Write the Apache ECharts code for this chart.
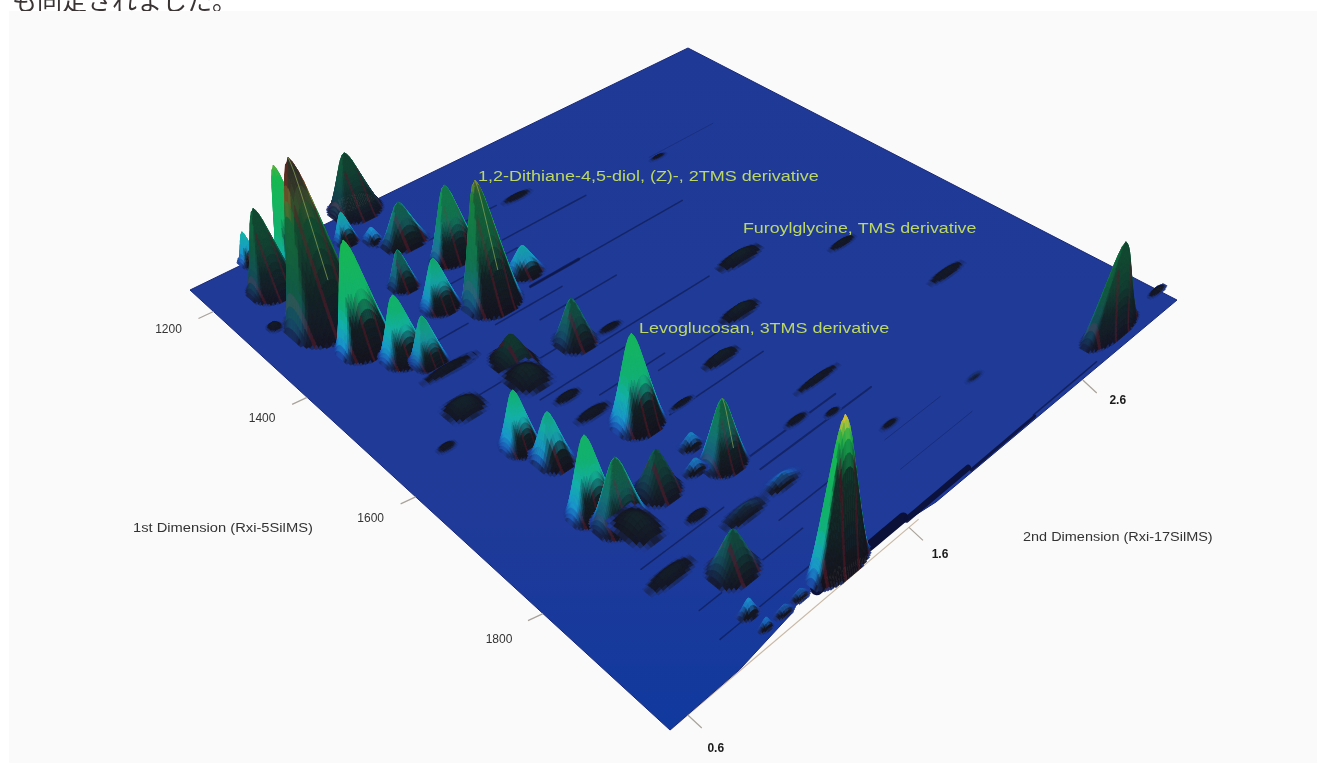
<!doctype html>
<html><head><meta charset="utf-8"><style>html,body{margin:0;background:#fff}#c{width:1326px;height:763px;filter:blur(.6px)}</style>
<script src="https://cdn.jsdelivr.net/npm/echarts@6/dist/echarts.min.js"></script></head><body><div id="c"></div><script>
// ---- values ----
const d1Ticks=[1200,1400,1600,1800];
const d2Ticks=[0.6,1.6,2.6];
const d1Range=[1145,1970];
const d2Range=[0.53,3.25];
const peakD1=[1305,1210,1211,1147,1143,1191,1242,1309,1409,1392,1372,1417,1444,1374,1313,1274,1531,1512,1542,1532,1675,1616,1654,1736,1765,1762,1784,1780,1741,1769,1952,1886,1845,1842,1850,1815,1932,1954,1954,1952,1556,1624,1750,1627,1668,1766,1884,1944,1945,1596,1634,1471,1543,1690,1566,1267,1214,1207,1470,1793,1812,1866,1327,1950];
const peakD2=[0.81,0.89,0.77,0.79,1.30,1.15,1.32,1.41,1.34,1.55,0.84,0.91,0.96,1.18,1.15,0.65,1.42,1.18,1.16,0.90,1.30,0.93,0.97,0.91,0.95,1.13,0.97,1.38,1.35,1.28,1.32,1.07,1.26,1.45,0.91,1.14,0.98,0.98,1.06,1.14,2.22,2.59,2.74,1.98,1.74,1.91,2.33,2.91,3.24,1.20,1.21,1.03,1.56,1.47,0.74,1.84,1.23,0.83,0.98,1.70,1.82,1.92,2.48,1.38];
const peakHeight=[159,111,80,31,60,29,40,72,119,25,100,57,42,46,35,5,40,26,11,9,78,48,40,63,52,34,10,54,11,10,121,32,7,7,6,4,12,8,6,6,8,4,4,8,7,4,2,85,4,4,4,4,3,3,3,3,13,15,4,3,3,2,2,11];
const peakWidthD1=[45,30,30,16,33,16,24,24,33,22,30,27,23,23,19,10,25,31,27,20,28,23,25,23,25,23,28,23,10,9,18,23,11,11,11,7,8,5,6,6,12,7,8,11,9,6,5,17,5,8,9,9,7,5,7,8,17,15,9,6,5,5,5,10];
const peakWidthD2=[0.15,0.09,0.10,0.04,0.11,0.05,0.10,0.11,0.12,0.08,0.11,0.09,0.07,0.08,0.06,0.03,0.08,0.08,0.08,0.08,0.10,0.07,0.07,0.09,0.10,0.08,0.07,0.09,0.05,0.05,0.13,0.09,0.10,0.09,0.10,0.05,0.04,0.03,0.04,0.04,0.12,0.08,0.11,0.10,0.09,0.12,0.05,0.17,0.06,0.06,0.08,0.09,0.06,0.06,0.04,0.08,0.04,0.04,0.12,0.06,0.04,0.05,0.05,0.06];
const streakD1=[1326,1421,1421,1319,1447,1423,1476,1555,1527,1634,1693,1579,1618,1795,1815,1825,1898,1934,1875,1877,1915,1351,1263,1958,1962,1966,1964,1957];
const streakFrom=[1.61,1.50,1.50,2.45,1.26,1.01,1.40,1.42,0.98,1.53,1.40,1.12,1.29,1.43,1.44,0.86,0.88,0.85,1.32,1.85,1.78,1.23,1.35,1.41,1.62,1.95,2.32,1.20];
const streakTo=[2.06,2.33,1.75,2.85,1.59,1.19,1.79,2.05,1.38,1.87,1.88,1.54,1.61,1.90,2.02,1.23,1.35,1.31,1.59,2.16,2.18,1.62,1.74,1.62,1.95,2.32,2.72,1.23];
const frontEdgeD2=[0.53,0.815,1.07,1.13,1.32,1.41,1.59,1.75,3.25];
const frontEdgeD1=[1970,1969,1960,1954,1953,1956,1962,1968,1970];
const labelNames=['1,2-Dithiane-4,5-diol, (Z)-, 2TMS derivative','Furoylglycine, TMS derivative','Levoglucosan, 3TMS derivative'];
const axisNames=['1st Dimension (Rxi-5SilMS)','2nd Dimension (Rxi-17SilMS)'];
const topText='も同定されました。';

// ---- styling of the marks ----
const peakTone=[.15,1,.1,1,.05,.9,.3,.5,.3,.9,1,1,.8,.9,.3,0,.15,0,0,0,1,1,.9,1,.3,.05,0,.3,.9,.9,1,.1,.1,.5,0,0,1,1,.8,.8,0,0,0,0,0,0,.2,.1,0,0,0,0,0,0,0,0,1,.9,0,0,0,0,0,1];
const litFromPeak={30:.62};
const streakWidth=[1.5,1.5,3,1,1.5,1.5,1.5,1.5,1.5,1.5,1.5,1.5,1.5,2,2,1.5,1.5,1.5,1.5,1,1,1.5,1.5,10,6,3,1.5,13];
const streakAlpha=[.5,.5,.6,.25,.5,.5,.5,.5,.5,.45,.5,.5,.5,.5,.5,.5,.5,.5,.5,.3,.3,.45,.45,1,.95,.85,.6,1];
const ridgeLinePeaks=[0,8,27];
const colorStops=[[0,'#1f3a98'],[5,'#1c62b8'],[12,'#1a98cc'],[28,'#14b0a8'],[45,'#12b070'],[100,'#18b850'],[108,'#50b040'],[116,'#c8c838'],[122,'#e8a030'],[135,'#c83020'],[150,'#a81818']];
const shape=[1,.95,.84,.7,.56,.42,.29,.17,.07,0];
const d1LabelOffset=[[-45,18],[-45,21],[-45,22],[-44,26]];
const d2LabelOffset=[[28,34],[31,27],[35,21]];

// ---- projection of the tilted plane ----
const A=293.3,B=684.1,C=190,D=236.6,E=-229,F=290,G=-.27867,H=.27052,VX=760,VY=2200;
function project(d1,d2,z){
  const s=(d1-d1Range[0])/(d1Range[1]-d1Range[0]),t=(d2-d2Range[0])/(d2Range[1]-d2Range[0]);
  const w=G*s+H*t+1;let X=(A*s+B*t+C)/w,Y=(D*s+E*t+F)/w;
  if(z){const p=z/w;X+=(X-VX)/(VY-Y)*p;Y-=p;}
  return [X,Y];
}
const rgb=h=>[1,3,5].map(i=>parseInt(h.substr(i,2),16));
const mix=(a,b,k)=>a.map((v,i)=>v+(b[i]-v)*k);
const css=c=>'rgb('+c.map(v=>Math.round(v)).join(',')+')';
const clamp=v=>Math.max(0,Math.min(1,v));
const stops=colorStops.map(s=>[s[0],rgb(s[1])]);
function ramp(z){
  for(let i=1;i<stops.length;i++) if(z<=stops[i][0]) return mix(stops[i-1][1],stops[i][1],(z-stops[i-1][0])/(stops[i][0]-stops[i-1][0]));
  return stops[stops.length-1][1];
}
function prof(r){if(r>=1)return 0;const f=r*(shape.length-1),i=Math.floor(f);return shape[i]+(shape[i+1]-shape[i])*(f-i);}
const darkLow=rgb('#14121c'),darkHigh=rgb('#12362a'),darkRed=rgb('#3c1822');

function peakItem(params,api){
  const i=api.value(0),h=peakHeight[i],c1=peakD1[i],c2=peakD2[i],w1=peakWidthD1[i],w2=peakWidthD2[i],tone=peakTone[i];
  const litFrom=litFromPeak[i]||.3;
  const n=h>40?28:h>15?16:10,zs=[],pts=[],P=2.2;
  for(let a=0;a<=n;a++){zs.push([]);pts.push([]);
    for(let b=0;b<=n;b++){
      const u=-1+2*a/n,v=1-2*b/n,r=Math.pow(Math.pow(Math.abs(u),P)+Math.pow(Math.abs(v),P),1/P),z=h*prof(r);
      zs[a].push(z);pts[a].push(api.coord(project(c1+u*w1,c2+v*w2,z)));
    }}
  const p0=project(c1,c2,0),pu=project(c1+w1,c2,0),pv=project(c1,c2+w2,0);
  const du=Math.hypot(pu[0]-p0[0],pu[1]-p0[1])*2/n,dv=Math.hypot(pv[0]-p0[0],pv[1]-p0[1])*2/n;
  const children=[];
  for(let a=0;a<n;a++)for(let b=0;b<n;b++){
    const z1=zs[a][b],z2=zs[a+1][b],z3=zs[a+1][b+1],z4=zs[a][b+1],m=(z1+z2+z3+z4)/4;
    if(m<.04)continue;
    const dS=((z2+z3)-(z1+z4))/2/du,dT=((z1+z2)-(z3+z4))/2/dv;
    const front=-dS+dT,gx=dS+dT,rel=m/h;
    const left=clamp(gx*.55);
    const lit=tone*clamp((rel-litFrom)/.25);
    const bright=Math.max(lit,Math.sqrt(tone)*left);
    const face=.95+(clamp(.25+front*1.2)-.95)*clamp(tone*3);
    const dark=(1-bright)*face*clamp(m/.9);
    const dc=(b%7===3&&rel<.7&&h>15)?darkRed:mix(darkLow,darkHigh,clamp(rel*1.3)*clamp(h/30));
    const col=css(mix(ramp(m),dc,dark));
    children.push({type:'polygon',shape:{points:[pts[a][b],pts[a+1][b],pts[a+1][b+1],pts[a][b+1]]},style:{fill:col,stroke:col,lineWidth:.6}});
  }
  if(ridgeLinePeaks.indexOf(i)>=0){
    const line=[];for(let a=n/2;a<=n*.85;a++)line.push(pts[a][n/2]);
    children.push({type:'polyline',shape:{points:line},style:{fill:null,stroke:'rgba(150,170,90,.65)',lineWidth:1}});
  }
  return {type:'group',children};
}
const order=peakD1.map((_,i)=>i).sort((a,b)=>project(peakD1[a],peakD2[a],0)[1]-project(peakD1[b],peakD2[b],0)[1]);

function planeItem(params,api){
  const pts=[project(d1Range[0],d2Range[0],0)];
  frontEdgeD2.forEach((d,i)=>pts.push(project(frontEdgeD1[i],d,0)));
  pts.push(project(d1Range[0],d2Range[1],0));
  const tan=[project(d1Range[1],d2Range[0],0),project(d1Range[1],1.65,0)].map(p=>api.coord(p));
  return {type:'group',children:[
    {type:'polyline',shape:{points:tan},style:{fill:null,stroke:'#c9b9a6',lineWidth:1.2}},
    {type:'polygon',shape:{points:pts.map(p=>api.coord(p))},style:{stroke:'#19297a',lineWidth:1,
      fill:{type:'linear',x:0,y:0,x2:0,y2:1,colorStops:[{offset:0,color:'#1f3a96'},{offset:.7,color:'#1f3a98'},{offset:1,color:'#10399f'}]}}}
  ]};
}
function streakItem(params,api){
  const i=api.value(0),pts=[];
  for(let k=0;k<=6;k++)pts.push(api.coord(project(streakD1[i],streakFrom[i]+(streakTo[i]-streakFrom[i])*k/6,0)));
  return {type:'polyline',shape:{points:pts},style:{fill:null,stroke:'rgba(10,16,56,'+streakAlpha[i]+')',lineWidth:streakWidth[i],lineCap:'round'}};
}
const FONT='"Liberation Sans",Arial,sans-serif';
function tickItem(params,api){
  const i=api.value(0),isD1=i<d1Ticks.length,j=isD1?i:i-d1Ticks.length;
  const e=isD1?project(d1Ticks[j],d2Range[0],0):project(d1Range[1],d2Ticks[j],0);
  const o=isD1?[-15,7]:[14,13],l=isD1?d1LabelOffset[j]:d2LabelOffset[j];
  const p1=api.coord(e),p2=api.coord([e[0]+o[0],e[1]+o[1]]),p3=api.coord([e[0]+l[0],e[1]+l[1]]);
  return {type:'group',children:[
    {type:'line',shape:{x1:p1[0],y1:p1[1],x2:p2[0],y2:p2[1]},style:{stroke:'#a8a29a',lineWidth:1.2}},
    {type:'text',x:p3[0],y:p3[1],style:{text:isD1?String(d1Ticks[j]):d2Ticks[j].toFixed(1),fill:isD1?'#333':'#1a1a1a',font:(isD1?'':'bold ')+'12px '+FONT,textAlign:'center',textVerticalAlign:'middle'}}
  ]};
}
const annot=(i,x,y,k)=>({type:'text',z:20,silent:true,x,y,scaleX:k,style:{text:labelNames[i],fill:'#bcd765',font:'15.5px '+FONT,textVerticalAlign:'middle'}});
const axTitle=(i,x,y,k)=>({type:'text',z:20,silent:true,x,y,scaleX:k,style:{text:axisNames[i],fill:'#333',font:'12px '+FONT,textVerticalAlign:'middle'}});
const chart=echarts.init(document.getElementById('c'),null,{renderer:'canvas'});
chart.setOption({
  animation:false,backgroundColor:'#ffffff',
  grid:{left:0,right:0,top:0,bottom:0},
  xAxis:{type:'value',min:0,max:1326,show:false},
  yAxis:{type:'value',min:0,max:763,inverse:true,show:false},
  graphic:[
    {type:'text',z:0,silent:true,style:{x:12,y:13,text:topText,fill:'#3a3435',font:'25px "Noto Sans CJK JP"',textVerticalAlign:'bottom'}},
    {type:'rect',z:1,silent:true,shape:{x:9,y:11,width:1308,height:752},style:{fill:'#fafafa'}},
    annot(0,478,177,1.16),annot(1,743,229,1.148),annot(2,639,329,1.157),
    axTitle(0,133,529,1.226),axTitle(1,1023,538,1.205)
  ],
  series:[
    {type:'custom',z:5,silent:true,clip:false,coordinateSystem:'cartesian2d',renderItem:planeItem,data:[[0,0]],encode:{x:0,y:1}},
    {type:'custom',z:6,silent:true,clip:false,coordinateSystem:'cartesian2d',renderItem:streakItem,data:streakD1.map((_,i)=>[i,0]),encode:{x:0,y:1}},
    {type:'custom',z:7,silent:true,clip:false,coordinateSystem:'cartesian2d',renderItem:peakItem,data:order.map(i=>[i,0]),encode:{x:0,y:1}},
    {type:'custom',z:8,silent:true,clip:false,coordinateSystem:'cartesian2d',renderItem:tickItem,data:d1Ticks.concat(d2Ticks).map((_,i)=>[i,0]),encode:{x:0,y:1}}
  ]
});
</script></body></html>
